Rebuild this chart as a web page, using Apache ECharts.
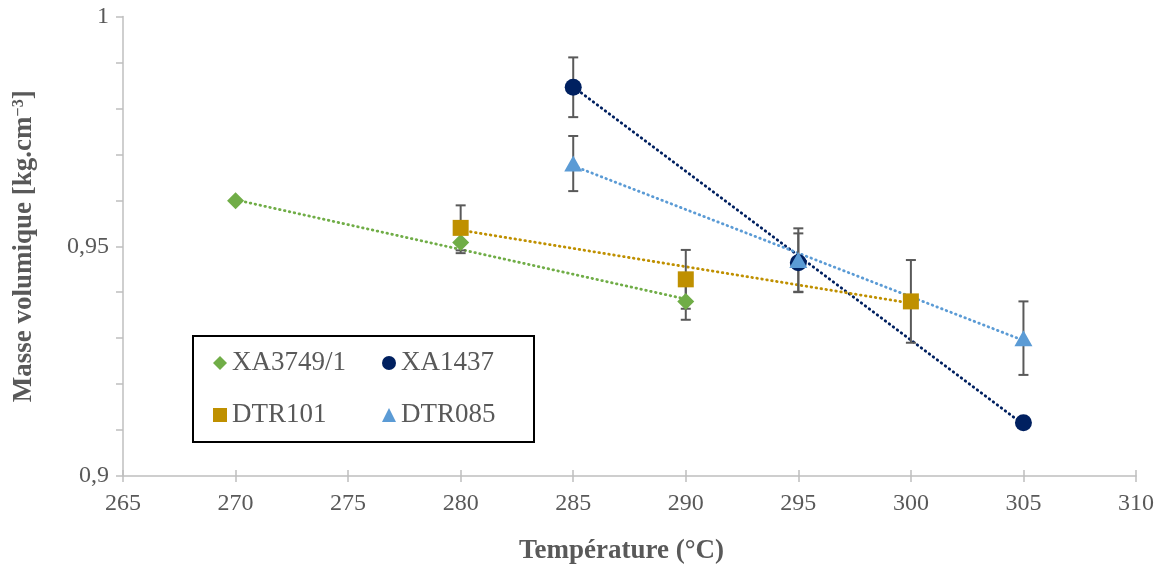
<!DOCTYPE html>
<html>
<head>
<meta charset="utf-8">
<script src="https://cdn.jsdelivr.net/npm/echarts@6/dist/echarts.min.js"></script>
<style>
html,body{margin:0;padding:0;background:#fff;}
#chart{width:1159px;height:570px;}
</style>
</head>
<body>
<div id="chart"></div>
<script>
// ---- Data ----
const seriesNames = ['XA3749/1', 'XA1437', 'DTR101', 'DTR085'];

const tempXA3749 = [270, 280, 290];
const valXA3749  = [0.9599, 0.9508, 0.9380];
const errXA3749  = [0.0000, 0.0023, 0.0040];

const tempXA1437 = [285, 295, 305];
const valXA1437  = [0.9846, 0.9464, 0.9116];
const errXA1437  = [0.0065, 0.0064, 0.0000];

const tempDTR101 = [280, 290, 300];
const valDTR101  = [0.9540, 0.9428, 0.9380];
const errDTR101  = [0.0049, 0.0064, 0.0090];

const tempDTR085 = [285, 295, 305];
const valDTR085  = [0.9680, 0.9470, 0.9300];
const errDTR085  = [0.0060, 0.0069, 0.0080];

// linear trendline end points
const trendXA3749 = [[270, 0.9601], [290, 0.9385]];
const trendXA1437 = [[285, 0.9847], [305, 0.9112]];
const trendDTR101 = [[280, 0.9535], [300, 0.9376]];
const trendDTR085 = [[285, 0.9675], [305, 0.9295]];

const yLabelValues = [0.9, 0.95, 1];
const yLabelTexts  = ['0,9', '0,95', '1'];

// ---- Styling ----
const FONT = "'Liberation Serif', 'Times New Roman', serif";
const TXT = '#595959';
const AXIS = '#BFBFBF';
const colors = {
  'XA3749/1': '#70AD47',
  'XA1437': '#002060',
  'DTR101': '#BF9000',
  'DTR085': '#5B9BD5'
};

function pts(t, v) { return t.map((x, i) => [x, v[i]]); }
function errPts(t, v, e) { return t.map((x, i) => [x, v[i] - e[i], v[i] + e[i], e[i]]); }

function renderErr(params, api) {
  if (api.value(3) <= 0) return null;
  const x = api.value(0);
  const lo = api.coord([x, api.value(1)]);
  const hi = api.coord([x, api.value(2)]);
  const hw = 5;
  const st = { stroke: '#595959', lineWidth: 2 };
  return {
    type: 'group',
    children: [
      { type: 'line', shape: { x1: lo[0], y1: lo[1], x2: hi[0], y2: hi[1] }, style: st },
      { type: 'line', shape: { x1: lo[0] - hw, y1: lo[1], x2: lo[0] + hw, y2: lo[1] }, style: st },
      { type: 'line', shape: { x1: hi[0] - hw, y1: hi[1], x2: hi[0] + hw, y2: hi[1] }, style: st }
    ]
  };
}

const groups = [
  { name: 'XA3749/1', t: tempXA3749, v: valXA3749, e: errXA3749, tr: trendXA3749, symbol: 'diamond', size: [17, 17] },
  { name: 'XA1437',   t: tempXA1437, v: valXA1437, e: errXA1437, tr: trendXA1437, symbol: 'circle',  size: 17 },
  { name: 'DTR101',   t: tempDTR101, v: valDTR101, e: errDTR101, tr: trendDTR101, symbol: 'rect',    size: 16 },
  { name: 'DTR085',   t: tempDTR085, v: valDTR085, e: errDTR085, tr: trendDTR085, symbol: 'triangle', size: [18, 16] }
];

const series = [];
groups.forEach(g => {
  series.push({
    name: g.name + ' trend', type: 'line', data: g.tr, symbol: 'none', silent: true,
    lineStyle: { color: colors[g.name], width: 2.8, type: [0.6, 4.4], cap: 'round' },
    z: 2
  });
});
groups.forEach(g => {
  series.push({
    name: g.name + ' err', type: 'custom', renderItem: renderErr,
    data: errPts(g.t, g.v, g.e), encode: { x: 0, y: [1, 2] }, z: 3, silent: true
  });
});
groups.forEach(g => {
  series.push({
    name: g.name, type: 'scatter', data: pts(g.t, g.v), symbol: g.symbol, symbolSize: g.size,
    itemStyle: { color: colors[g.name], opacity: 1 }, z: 4
  });
});

const legendBase = {
  orient: 'vertical', top: 348, itemGap: 22, itemWidth: 14, itemHeight: 14, padding: 0,
  selectedMode: false,
  textStyle: { fontFamily: FONT, fontSize: 27, color: TXT, lineHeight: 30 }
};

const option = {
  animation: false,
  backgroundColor: '#fff',
  color: seriesNames.map(n => colors[n]),
  grid: { left: 123, right: 23, top: 16.5, bottom: 93.5, containLabel: false },
  xAxis: [{
    type: 'value', min: 265, max: 310, interval: 5,
    name: 'Température (°C)', nameLocation: 'middle', nameGap: 62,
    nameTextStyle: { fontFamily: FONT, fontSize: 27, fontWeight: 'bold', color: TXT, padding: [0, 16, 0, 0] },
    axisLine: { show: true, lineStyle: { color: AXIS, width: 1.5 } },
    axisTick: { show: true, length: 6, lineStyle: { color: AXIS, width: 1.5 } },
    axisLabel: { fontFamily: FONT, fontSize: 24, color: TXT, margin: 16 },
    splitLine: { show: false }
  }, {
    type: 'value', min: 265, max: 310, interval: 5, position: 'bottom',
    axisLine: { show: false },
    axisTick: { show: true, inside: true, length: 6, lineStyle: { color: AXIS, width: 1.5 } },
    axisLabel: { show: false },
    splitLine: { show: false }
  }],
  yAxis: {
    type: 'value', min: 0.9, max: 1, interval: 0.01,
    name: 'Masse volumique [kg.cm{sup|\u22123}]', nameLocation: 'middle', nameGap: 85, nameRotate: 90,
    nameTextStyle: {
      fontFamily: FONT, fontSize: 27, fontWeight: 'bold', color: TXT,
      rich: { sup: { fontFamily: FONT, fontSize: 16, fontWeight: 'bold', color: TXT, verticalAlign: 'top', lineHeight: 27 } }
    },
    axisLine: { show: true, lineStyle: { color: AXIS, width: 1.5 } },
    axisTick: { show: true, length: 7, lineStyle: { color: AXIS, width: 1.5 } },
    axisLabel: {
      fontFamily: FONT, fontSize: 24, color: TXT, margin: 14,
      formatter: function (v) {
        const i = yLabelValues.findIndex(a => Math.abs(a - v) < 1e-6);
        return i >= 0 ? yLabelTexts[i] : '';
      }
    },
    splitLine: { show: false }
  },
  legend: [
    Object.assign({}, legendBase, { left: 213, data: ['XA3749/1', 'DTR101'] }),
    Object.assign({}, legendBase, { left: 382, data: ['XA1437', 'DTR085'] })
  ],
  graphic: [{
    type: 'rect', shape: { x: 193, y: 336, width: 341, height: 106 },
    style: { fill: 'none', stroke: '#000', lineWidth: 2 }, z: 10
  }],
  series: series
};

const chart = echarts.init(document.getElementById('chart'), null, { renderer: 'canvas' });
chart.setOption(option);
</script>
</body>
</html>
